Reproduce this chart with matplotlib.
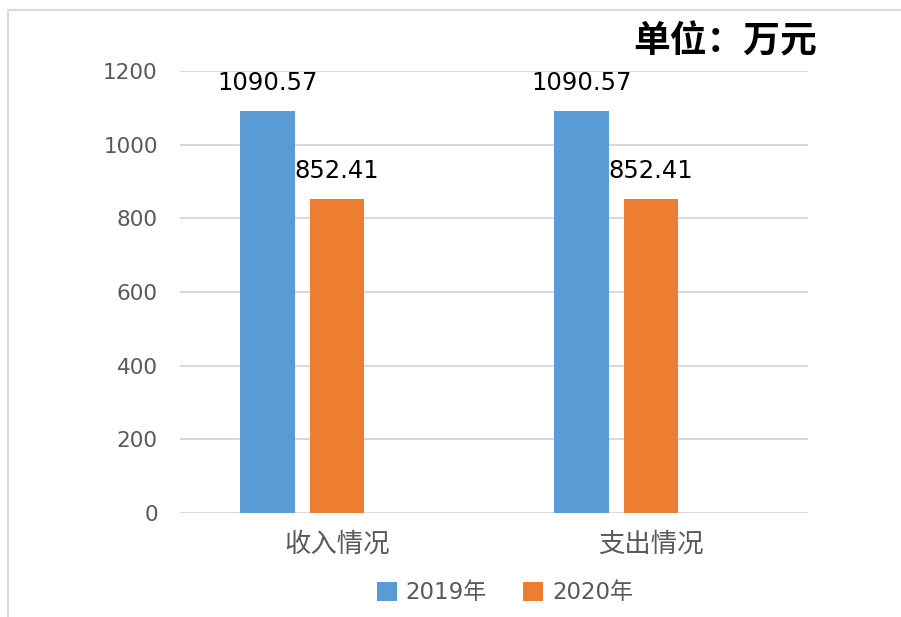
import matplotlib.pyplot as plt
import numpy as np
from matplotlib.lines import Line2D

plt.rcParams['font.family'] = ['DejaVu Sans', 'Noto Sans CJK SC']

categories = ["收入情况", "支出情况"]
series_names = ["2019年", "2020年"]
values_2019 = [1090.57, 1090.57]
values_2020 = [852.41, 852.41]
y_ticks = [0, 200, 400, 600, 800, 1000, 1200]

colors = ["#5b9bd5", "#ed7d31"]
cjk = ['Noto Sans CJK SC', 'DejaVu Sans']
mixed = ['DejaVu Sans', 'Noto Sans CJK SC']

fig = plt.figure(figsize=(9.01, 6.17), dpi=100)
ax = fig.add_axes([0.1998, 0.1686, 0.697, 0.7164])

x = np.arange(len(categories))
width = 0.175
step = 0.22
offsets = [-step, 0.0]

for vals, off, col, name in zip([values_2019, values_2020], offsets, colors, series_names):
    bars = ax.bar(x + off, vals, width, color=col, label=name, zorder=3)
    for b, v in zip(bars, vals):
        ax.annotate(f"{v:.2f}", (b.get_x() + b.get_width() / 2, v),
                    xytext=(0, 20.5), textcoords="offset points",
                    ha="center", va="center", fontsize=17.5, color="black")

ax.set_xlim(-0.5, 1.5)
ax.set_ylim(0, 1200)
ax.set_yticks(y_ticks)
ax.set_yticklabels([str(t) for t in y_ticks], fontsize=15.5, color="#595959")
ax.set_xticks(x)
ax.set_xticklabels(categories, family=cjk, fontsize=19, color="#595959")
ax.tick_params(axis="y", length=0, pad=16)
ax.tick_params(axis="x", length=0, pad=13)
ax.grid(axis="y", color="#d9d9d9", linewidth=1.5, zorder=0)
for s in ax.spines.values():
    s.set_visible(False)

ax.legend(loc="center", bbox_to_anchor=(0.5605, 0.039), bbox_transform=fig.transFigure,
          ncol=2, frameon=False, prop={"family": mixed, "size": 16.5},
          handlelength=0.85, handleheight=0.85, handletextpad=0.4, columnspacing=1.6,
          labelcolor="#595959")

fig.text(725 / 901, 1 - 42 / 617, "单位：万元", family=cjk, fontsize=26.5,
         fontweight="bold", ha="center", va="center", color="black")

# outer frame (only top and left are visible in the crop)
fig.add_artist(Line2D([8 / 901, 1.0], [1 - 10 / 617, 1 - 10 / 617],
                      transform=fig.transFigure, color="#d9d9d9", linewidth=1.5))
fig.add_artist(Line2D([8 / 901, 8 / 901], [0.0, 1 - 10 / 617],
                      transform=fig.transFigure, color="#d9d9d9", linewidth=1.5))

fig.savefig("out.png", dpi=100)
